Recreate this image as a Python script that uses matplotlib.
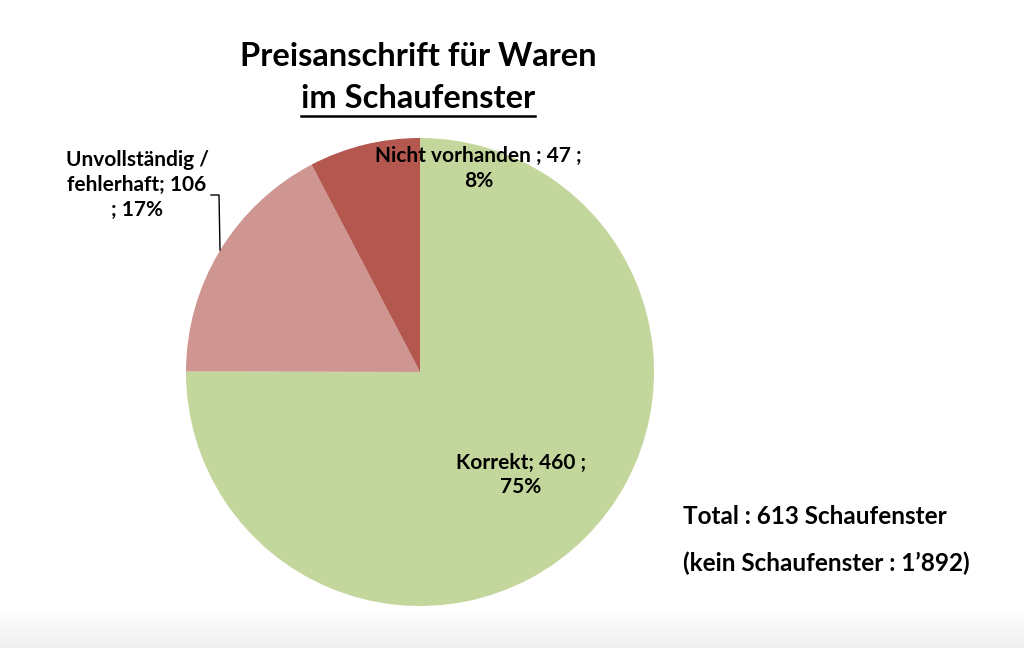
import matplotlib.pyplot as plt
import numpy as np
from matplotlib.lines import Line2D

plt.rcParams['font.family'] = ['Lato', 'DejaVu Sans']
plt.rcParams['font.weight'] = 'bold'

categories = ["Korrekt", "Unvollständig /\nfehlerhaft", "Nicht vorhanden "]
counts = [460, 106, 47]
percents = [75, 17, 8]
colors = ["#C3D69B", "#CF9591", "#B4574F"]
title_lines = ["Preisanschrift für Waren", "im Schaufenster"]
total_text = "Total : 613 Schaufenster"
none_text = "(kein Schaufenster : 1’892)"

W, H = 1024, 648
fig = plt.figure(figsize=(W / 100, H / 100), dpi=100)

# faint grey band at the bottom edge
bg = fig.add_axes([0, 0, 1, 40 / H])
grad = np.linspace(0.94, 1.0, 64).reshape(-1, 1)
bg.imshow(np.dstack([grad, grad, grad]), aspect='auto', origin='lower', extent=[0, 1, 0, 1])
bg.axis('off')

cx, cy, r = 420, 372, 234
ax = fig.add_axes([(cx - r) / W, (H - cy - r) / H, 2 * r / W, 2 * r / H])
ax.pie(counts, colors=colors, startangle=90, counterclock=False,
       wedgeprops=dict(linewidth=0))
ax.set_xlim(-1, 1)
ax.set_ylim(-1, 1)
ax.set_aspect('equal')
ax.axis('off')

fs = 15
ax.text(0.43, -0.44, f"{categories[0]}; {counts[0]} ;\n{percents[0]}%",
        ha='center', va='center', fontsize=fs, linespacing=1.3)
ax.text(0.25, 0.87, f"{categories[2]}; {counts[2]} ;\n{percents[2]}%",
        ha='center', va='center', fontsize=fs, linespacing=1.3)

# outside label with leader line
fig.text(137 / W, 1 - 185 / H, f"{categories[1]}; {counts[1]}\n; {percents[1]}%",
         ha='center', va='center', fontsize=fs, linespacing=1.3)
fig.add_artist(Line2D([211 / W, 219 / W, 220 / W],
                      [1 - 195 / H, 1 - 195 / H, 1 - 250 / H],
                      color='black', lw=1))

t1 = fig.text(418 / W, 1 - 57 / H, title_lines[0], ha='center', va='center', fontsize=23.5)
t2 = fig.text(418 / W, 1 - 98 / H, title_lines[1], ha='center', va='center', fontsize=23.5)

fig.text(683 / W, 1 - 517 / H, total_text, ha='left', va='center', fontsize=17.5)
fig.text(683 / W, 1 - 563 / H, none_text, ha='left', va='center', fontsize=17.5)

# underline for second title line
fig.canvas.draw()
bb = t2.get_window_extent()
y_ul = 1 - 116 / H
fig.add_artist(Line2D([bb.x0 / W, bb.x1 / W], [y_ul, y_ul], color='black', lw=1.8))

fig.savefig("out.png", dpi=100)
